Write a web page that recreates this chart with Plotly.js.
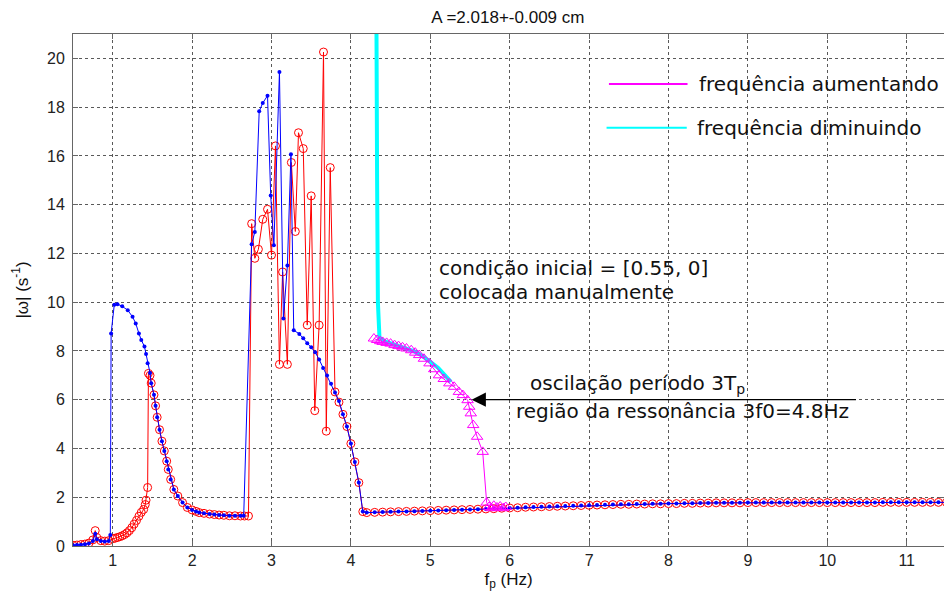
<!DOCTYPE html>
<html>
<head>
<meta charset="utf-8">
<script src="https://cdn.plot.ly/plotly-3.0.1.min.js"></script>
<style>html,body{margin:0;padding:0;background:#fff;}#chart{width:944px;height:594px;}</style>
</head>
<body>
<div id="chart"></div>
<script>
// ---- data ----
const redF = [0.5,0.55,0.6,0.65,0.7,0.75,0.78,0.8,0.85,0.9,0.95,1.0,1.03,1.06,1.09,1.12,1.15,1.18,1.21,1.24,1.27,1.30,1.33,1.36,1.39,1.41,1.42,1.44,1.45,1.47,1.485,1.52,1.54,1.56,1.59,1.62,1.65,1.68,1.70,1.73,1.77,1.82,1.88,1.94,2.0,2.05,2.09,2.15,2.22,2.28,2.34,2.40,2.47,2.54,2.61,2.66,2.71,
  2.75,2.79,2.835,2.89,2.95,3.0,3.05,3.10,3.14,3.2,3.25,3.30,3.34,3.40,3.45,3.50,3.545,3.60,3.655,3.69,3.74,3.80,3.85,3.90,3.95,4.0,4.05,4.10,4.15];
const redY = [0.03,0.04,0.06,0.08,0.12,0.25,0.63,0.35,0.22,0.2,0.22,0.3,0.32,0.35,0.38,0.42,0.47,0.54,0.63,0.75,0.9,1.05,1.22,1.38,1.5,1.7,1.88,2.4,7.08,7.0,6.68,6.2,5.75,5.28,4.77,4.3,3.9,3.48,3.14,2.73,2.32,2.05,1.78,1.58,1.48,1.42,1.37,1.34,1.31,1.29,1.27,1.26,1.24,1.24,1.23,1.23,1.23,
  13.22,11.8,12.17,13.4,13.81,11.93,16.41,7.45,11.24,7.45,15.73,12.9,16.95,16.3,9.06,14.36,5.55,9.06,20.26,4.71,15.52,6.32,5.9,5.4,4.9,4.2,3.45,2.6,1.41];

const blueF = [0.5,0.55,0.6,0.65,0.7,0.75,0.78,0.8,0.85,0.9,0.95,0.97,0.98,1.02,1.06,1.12,1.19,1.25,1.29,1.33,1.36,1.40,1.42,1.44,1.47,1.485,1.52,1.54,1.56,1.59,1.62,1.65,1.68,1.70,1.73,1.77,1.82,1.88,1.94,2.0,2.05,2.09,2.15,2.22,2.28,2.34,2.40,2.47,2.54,2.61,2.65,
  2.75,2.79,2.845,2.89,2.95,2.99,3.03,3.10,3.15,3.2,3.245,3.28,3.35,3.40,3.45,3.50,3.55,3.60,3.65,3.70,3.75,3.80,3.85,3.90,3.95,4.0,4.05,4.10,4.15];
const blueY = [0.03,0.04,0.05,0.07,0.1,0.2,0.5,0.28,0.2,0.18,0.2,0.45,8.72,9.9,9.92,9.83,9.67,9.4,9.13,8.72,8.45,8.18,7.87,7.5,7.1,6.68,6.2,5.75,5.28,4.77,4.3,3.9,3.48,3.14,2.73,2.32,2.05,1.78,1.58,1.48,1.42,1.37,1.34,1.31,1.29,1.27,1.26,1.24,1.24,1.24,1.24,
  12.38,12.88,17.83,18.17,18.47,14.38,12.34,19.44,9.33,11.5,16.07,8.85,8.7,8.52,8.32,8.15,7.95,7.65,7.3,6.99,6.65,6.3,5.95,5.4,4.9,4.2,3.45,2.6,1.41];

// common high-frequency tail (both series coincide)
const tailF = [4.2,4.3,4.4,4.5,4.6,4.7,4.8,4.9,5.0,5.1,5.2,5.3,5.4,5.5,5.6,5.7,5.8,5.9,6.0,6.1,6.2,6.3,6.4,6.5,6.6,6.7,6.8,6.9,7.0,7.1,7.2,7.3,7.4,7.5,7.6,7.7,7.8,7.9,8.0,8.1,8.2,8.3,8.4,8.5,8.6,8.7,8.8,8.9,9.0,9.1,9.2,9.3,9.4,9.5,9.6,9.7,9.8,9.9,10.0,10.1,10.2,10.3,10.4,10.5,10.6,10.7,10.8,10.9,11.0,11.1,11.2,11.3,11.4,11.5];
const tailY = [1.37,1.38,1.39,1.40,1.41,1.42,1.43,1.44,1.45,1.46,1.47,1.48,1.49,1.50,1.51,1.52,1.53,1.55,1.56,1.57,1.59,1.60,1.61,1.62,1.63,1.64,1.65,1.66,1.67,1.68,1.69,1.70,1.71,1.71,1.72,1.72,1.73,1.73,1.74,1.74,1.75,1.75,1.76,1.76,1.77,1.77,1.77,1.77,1.78,1.78,1.78,1.78,1.78,1.78,1.78,1.78,1.78,1.78,1.78,1.78,1.78,1.78,1.78,1.78,1.78,1.79,1.79,1.79,1.79,1.79,1.79,1.79,1.79,1.79];

const upF = [4.29,4.33,4.37,4.40,4.45,4.50,4.55,4.60,4.65,4.70,4.76,4.81,4.86,4.92,4.99,5.05,5.11,5.17,5.24,5.30,5.36,5.41,5.47,5.49,5.51,5.54,5.59,5.66,5.71,5.74,5.77,5.80,5.84,5.88,5.92,5.95];
const upY = [8.51,8.45,8.40,8.37,8.33,8.30,8.24,8.20,8.15,8.10,8.03,7.93,7.83,7.68,7.49,7.25,7.00,6.85,6.67,6.53,6.32,6.19,5.98,5.71,5.44,4.96,4.48,3.86,1.78,1.60,1.55,1.65,1.58,1.62,1.55,1.60];

const downF = [5.26,5.20,5.10,5.00,4.90,4.80,4.70,4.60,4.50,4.42,4.36,4.34,4.33,4.32];
const downY = [6.73,6.95,7.30,7.55,7.80,7.98,8.10,8.20,8.30,8.40,8.55,10.0,15.0,23.0];

const xTicks = [1,2,3,4,5,6,7,8,9,10,11];
const yTicks = [0,2,4,6,8,10,12,14,16,18,20];
const legendNames = ['frequência aumentando','frequência diminuindo'];

const traces = [
  {x: redF.concat(tailF), y: redY.concat(tailY), mode:'lines+markers', type:'scatter',
   line:{color:'#ff0000', width:1}, marker:{symbol:'circle-open', size:8, color:'#ff0000', line:{width:1}}, showlegend:false},
  {x: blueF.concat(tailF), y: blueY.concat(tailY), mode:'lines+markers', type:'scatter',
   line:{color:'#0000ff', width:1}, marker:{symbol:'circle', size:4, color:'#0000ff'}, showlegend:false},
  {x: downF, y: downY, mode:'lines', type:'scatter', line:{color:'#00ffff', width:4}, showlegend:false},
  {x: upF, y: upY, mode:'lines+markers', type:'scatter',
   line:{color:'#ff00ff', width:1}, marker:{symbol:'triangle-up-open', size:10, color:'#ff00ff', line:{width:1}}, showlegend:false}
];

const gridCol = 'rgba(60,60,60,0.85)';
const axisCommon = {
  showgrid:true, griddash:'dot', gridcolor:gridCol, gridwidth:1,
  showline:true, linecolor:'#666', linewidth:1, mirror:'ticks',
  ticks:'inside', ticklen:5, tickcolor:'#666', zeroline:false,
  tickfont:{family:'Liberation Sans, Arial, sans-serif', size:16, color:'#222'}
};

const annFont = {family:'DejaVu Sans, sans-serif', size:20, color:'#111'};
const layout = {
  width:944, height:594,
  margin:{l:73, r:0, t:34, b:48},
  paper_bgcolor:'#fff', plot_bgcolor:'#fff',
  title:{text:'A =2.018+-0.009 cm', x:0.538, xref:'container', y:1-17/594, yref:'container', yanchor:'middle',
         font:{family:'Liberation Sans, Arial, sans-serif', size:17, color:'#111'}},
  xaxis: Object.assign({}, axisCommon, {range:[0.5,11.47], tickvals:xTicks, ticktext:xTicks.map(String),
         title:{text:'f<sub>p</sub> (Hz)', standoff:4, font:{family:'Liberation Sans, Arial, sans-serif', size:17, color:'#111'}}}),
  yaxis: Object.assign({}, axisCommon, {range:[0,21], tickvals:yTicks, ticktext:yTicks.map(String), ticklabelstandoff:4,
         title:{text:'|ω| (s<sup>-1</sup>)', standoff:14, font:{family:'Liberation Sans, Arial, sans-serif', size:17, color:'#111'}}}),
  shapes:[
    {type:'line', xref:'x', yref:'y', x0:7.25, x1:8.24, y0:18.95, y1:18.95, line:{color:'#ff00ff', width:2}},
    {type:'line', xref:'x', yref:'y', x0:7.22, x1:8.23, y0:17.15, y1:17.15, line:{color:'#00ffff', width:2}}
  ],
  annotations:[
    {xref:'x', yref:'y', x:8.36, y:18.95, text:legendNames[0], showarrow:false, xanchor:'left', yanchor:'middle', font:annFont},
    {xref:'x', yref:'y', x:8.33, y:17.15, text:legendNames[1], showarrow:false, xanchor:'left', yanchor:'middle', font:annFont},
    {xref:'x', yref:'y', x:5.09, y:11.4, text:'condição inicial = [0.55, 0]', showarrow:false, xanchor:'left', yanchor:'middle', font:annFont},
    {xref:'x', yref:'y', x:5.09, y:10.42, text:'colocada manualmente', showarrow:false, xanchor:'left', yanchor:'middle', font:annFont},
    {xref:'x', yref:'y', x:6.23, y:6.64, text:'oscilação período 3T<sub>p</sub>', showarrow:false, xanchor:'left', yanchor:'middle', font:annFont},
    {xref:'x', yref:'y', x:6.06, y:5.53, text:'região da ressonância 3f0=4.8Hz', showarrow:false, xanchor:'left', yanchor:'middle', font:annFont},
    {xref:'x', yref:'y', axref:'x', ayref:'y', x:5.52, y:6.0, ax:10.38, ay:6.0, text:'', showarrow:true,
     arrowhead:2, arrowsize:2.2, arrowwidth:1.3, arrowcolor:'#000'}
  ]
};

Plotly.newPlot('chart', traces, layout, {staticPlot:true, displayModeBar:false});
</script>
</body>
</html>
